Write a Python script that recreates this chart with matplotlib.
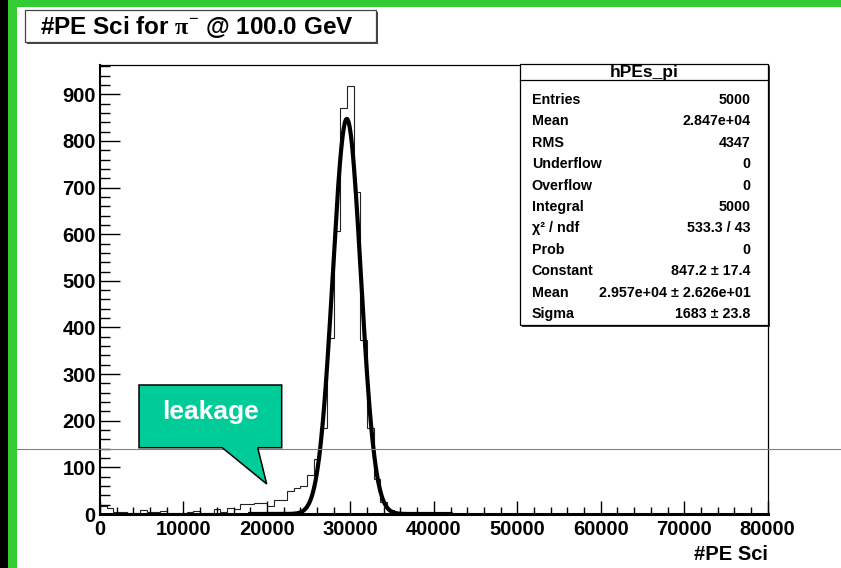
import numpy as np
import matplotlib
matplotlib.use('Agg')
import matplotlib.pyplot as plt
from matplotlib.patches import Rectangle, Polygon
from matplotlib.ticker import MultipleLocator, StrMethodFormatter

plt.rcParams['font.family'] = ['Liberation Sans', 'DejaVu Sans']
plt.rcParams['font.weight'] = 'bold'
plt.rcParams['mathtext.fontset'] = 'custom'
plt.rcParams['mathtext.rm'] = 'Liberation Serif'

# histogram: 100 bins of 800 PE from 0 to 80000
bin_width = 800
n_bins = 100
counts = [18, 12, 4, 4, 3, 3, 8, 4, 4, 6,
          2, 3, 2, 4, 6, 3, 3, 10, 5, 13,
          10, 21, 21, 24, 24, 17, 30, 30, 50, 55,
          60, 84, 118, 184, 378, 606, 871, 918, 690, 373,
          184, 75, 25, 8, 2]
counts = counts + [0] * (n_bins - len(counts))

# gaussian fit result (from the stats box)
fit_const = 847.2
fit_mean = 2.957e4
fit_sigma = 1683.0

stat_labels = ['Entries', 'Mean', 'RMS', 'Underflow', 'Overflow', 'Integral',
               'χ² / ndf', 'Prob', 'Constant', 'Mean', 'Sigma']
stat_values = ['5000', '2.847e+04', '4347', '0', '0', '5000',
               '533.3 / 43', '0', '847.2 ± 17.4', '2.957e+04 ± 2.626e+01', '1683 ± 23.8']

W, H = 841, 568
fig = plt.figure(figsize=(W / 100, H / 100), dpi=100)
fig.patch.set_facecolor('white')

# main histogram pad
x0, x1, y0, y1 = 100, 767.7, 514, 64.5
ax = fig.add_axes([x0 / W, (H - y0) / H, (x1 - x0) / W, (y0 - y1) / H])
edges = np.arange(n_bins + 1) * bin_width
ax.stairs(counts, edges, color='#222222', lw=0.8)

xf = np.linspace(18000, 42000, 600)
yf = fit_const * np.exp(-0.5 * ((xf - fit_mean) / fit_sigma) ** 2)
ax.plot(xf, yf, color='black', lw=3.0)

ax.set_xlim(0, 80000)
ax.set_ylim(0, 963.9)
ax.xaxis.set_major_locator(MultipleLocator(10000))
ax.xaxis.set_minor_locator(MultipleLocator(2000))
ax.yaxis.set_major_locator(MultipleLocator(100))
ax.yaxis.set_minor_locator(MultipleLocator(20))
ax.xaxis.set_major_formatter(StrMethodFormatter('{x:.0f}'))
ax.yaxis.set_major_formatter(StrMethodFormatter('{x:.0f}'))
ax.tick_params(axis='x', which='major', direction='in', length=9.7, width=1, labelsize=14.5, pad=4.5)
ax.tick_params(axis='x', which='minor', direction='in', length=4.8, width=1)
ax.tick_params(axis='y', which='major', direction='in', length=14.4, width=1, labelsize=14.5, pad=3)
ax.tick_params(axis='y', which='minor', direction='in', length=7.2, width=1)
ax.spines['bottom'].set_linewidth(2.2)
ax.spines['left'].set_linewidth(1.5)
ax.spines['top'].set_linewidth(0.9)
ax.spines['right'].set_linewidth(0.9)

# overlay in pixel coordinates for the slide decorations
ov = fig.add_axes([0, 0, 1, 1], zorder=5)
ov.set_xlim(0, W)
ov.set_ylim(H, 0)
ov.axis('off')

green = '#33cc33'
ov.add_patch(Rectangle((0, 0), 8, H, facecolor='black', lw=0))
ov.add_patch(Rectangle((8, 0), 9, H, facecolor=green, lw=0))
ov.add_patch(Rectangle((8, 0), W, 7, facecolor=green, lw=0))
ov.plot([17, W], [449.3, 449.3], color='#808080', lw=0.8)

# title box
ov.add_patch(Rectangle((27, 12), 351, 32, facecolor='#444444', lw=0))
ov.add_patch(Rectangle((25, 10), 351, 32, facecolor='white', edgecolor='#444444', lw=0.9))
ov.text(40, 27, r'#PE Sci for $\mathrm{\pi}^{-}$ @ 100.0 GeV', fontsize=17.5,
        ha='left', va='center')

# x axis title
ov.text(767.7, 559.5, '#PE Sci', fontsize=14.5, ha='right', va='baseline')

# stats box
sx, sy, sw, sh = 520, 64, 248, 261
ov.add_patch(Rectangle((sx + 2, sy + 2), sw, sh, facecolor='#333333', lw=0))
ov.add_patch(Rectangle((sx, sy), sw, sh, facecolor='white', edgecolor='black', lw=0.9))
ov.plot([sx, sx + sw], [80, 80], color='black', lw=0.9)
ov.text(sx + sw / 2, 72.5, 'hPEs_pi', fontsize=12.5, ha='center', va='center')
for i, (lab, val) in enumerate(zip(stat_labels, stat_values)):
    yy = 100 + i * 21.4
    ov.text(531.7, yy, lab, fontsize=10.3, ha='left', va='center')
    ov.text(750.7, yy, val, fontsize=10.3, ha='right', va='center')

# leakage callout
callout = [(139, 385), (281.7, 385), (281.7, 447.7), (257.7, 447.7),
           (266.7, 484), (222.3, 447.7), (139, 447.7)]
ov.add_patch(Polygon(callout, closed=True, facecolor='#00cc99', edgecolor='black', lw=1.1, zorder=3))
ov.text(210.3, 412, 'leakage', color='white', fontsize=19, ha='center', va='center', zorder=4)

fig.savefig('out.png', dpi=100)
